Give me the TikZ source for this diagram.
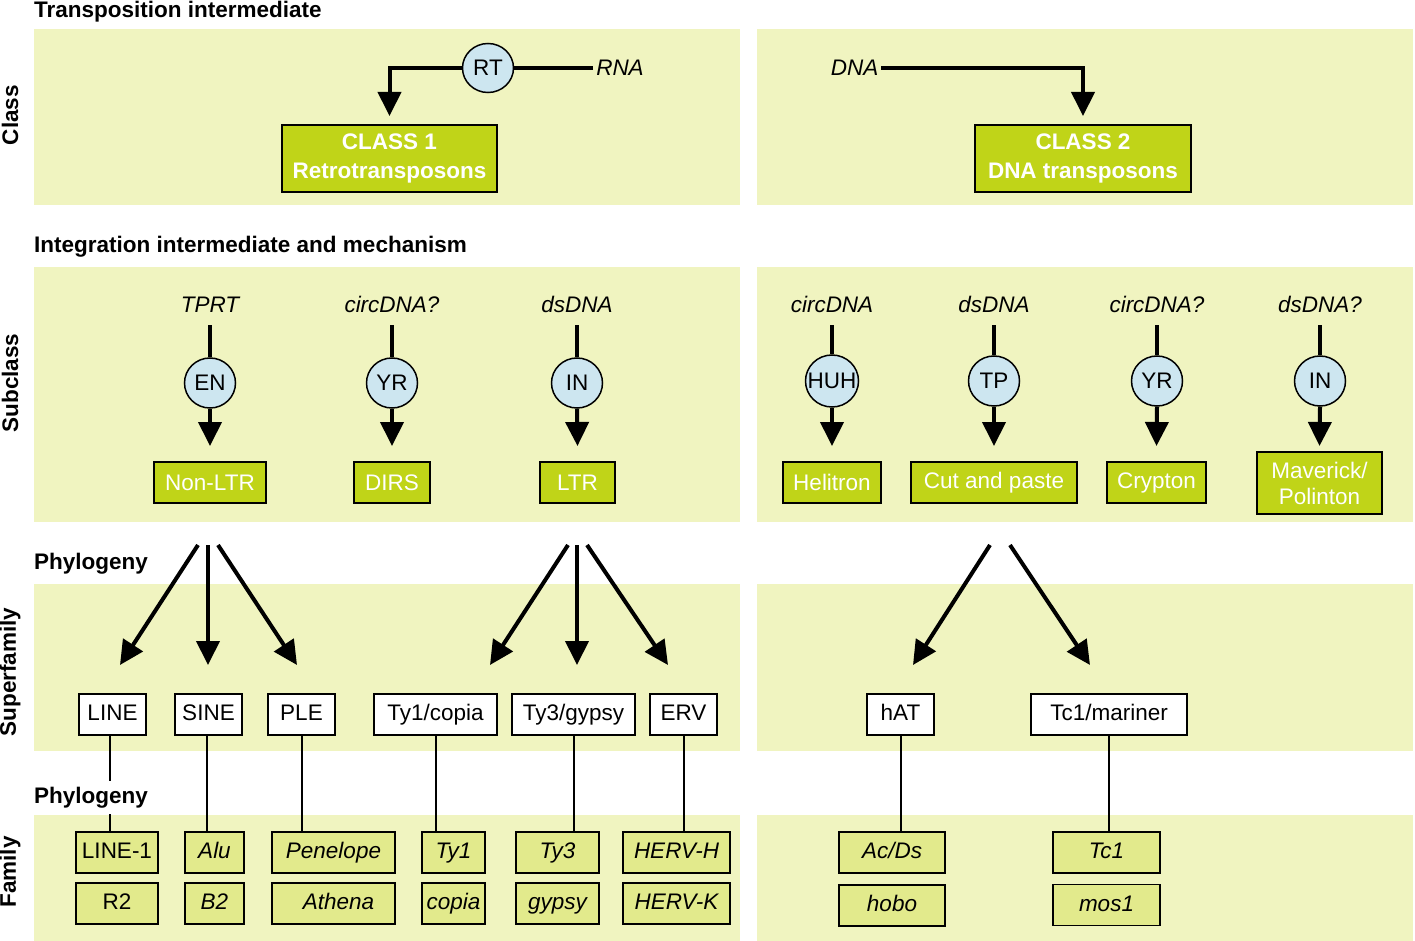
\documentclass[tikz,border=0pt]{standalone}
\usepackage{fontspec}
\setmainfont{Liberation Sans}
\usetikzlibrary{arrows.meta,shapes.geometric}
\definecolor{band}{RGB}{240,244,192}
\definecolor{lime}{RGB}{192,212,24}
\definecolor{famfill}{RGB}{226,234,140}
\definecolor{enz}{RGB}{205,230,240}
\begin{document}
\begin{tikzpicture}[x=1pt,y=-1pt,
  every node/.style={font=\fontsize{22.5}{26}\selectfont},
  bandbox/.style={fill=band,draw=none},
  head/.style={font=\fontsize{22.5}{26}\selectfont\bfseries,anchor=base west,inner sep=0},
  side/.style={font=\fontsize{22.5}{26}\selectfont\bfseries,rotate=90,inner sep=0},
  classbox/.style={draw=black,line width=2pt,fill=lime,text=white,font=\fontsize{22.5}{29}\selectfont\bfseries,align=center,minimum width=215pt,minimum height=67pt,inner sep=0},
  subbox/.style={draw=black,line width=2pt,fill=lime,text=white,minimum height=41pt,inner sep=0,align=center},
  enzyme/.style={ellipse,draw=black,line width=1.5pt,fill=enz,minimum width=51pt,minimum height=50pt,inner sep=0},
  interm/.style={font=\fontsize{22.5}{26}\selectfont\itshape,anchor=base,inner sep=0},
  supbox/.style={draw=black,line width=1.8pt,fill=white,minimum height=41pt,inner sep=0,text height=16pt,text depth=4pt},
  fambox/.style={draw=black,line width=1.8pt,fill=famfill,minimum height=41pt,inner sep=0,text height=16pt,text depth=4pt},
  thickarrow/.style={line width=4pt,-{Triangle[width=23pt,length=24pt]}},
  thickline/.style={line width=4pt},
  link/.style={line width=2pt}
]
\useasboundingbox (0,0) rectangle (1415,941);
% bands
\fill[bandbox] (34,29) rectangle (740,205);
\fill[bandbox] (757,29) rectangle (1413,205);
\fill[bandbox] (34,267) rectangle (740,522);
\fill[bandbox] (757,267) rectangle (1413,522);
\fill[bandbox] (34,584) rectangle (740,751);
\fill[bandbox] (757,584) rectangle (1413,751);
\fill[bandbox] (34,815) rectangle (740,941);
\fill[bandbox] (757,815) rectangle (1413,941);

% headings
\node[head] (h1) at (34,18) {Transposition intermediate};
\node[head] (h2) at (34,252) {Integration intermediate and mechanism};
\node[head] (h3) at (34,569) {Phylogeny};
\node[side] (sClass) at (10,115) {Class};
\node[side] (sSub) at (10,383) {Subclass};
\node[side] (sSup) at (10,672) {Superfamily};
\node[side] (sFam) at (10,872) {Family};

% class row
\node[enzyme,minimum height=49pt] (RT) at (488,68) {RT};
\node[interm,anchor=center,inner sep=3pt] (RNA) at (620,68) {RNA};
\node[classbox] (c1) at (389.5,158.5) {CLASS 1\\Retrotransposons};
\node[interm,anchor=center,inner sep=3pt] (DNA) at (854.5,68) {DNA};
\node[classbox,minimum width=216pt] (c2) at (1083,158.5) {CLASS 2\\DNA transposons};
\draw[thickline] (RNA.west) -- (RT.east);
\draw[thickarrow] (RT.west) -| ([yshift=8pt]c1.north);
\draw[thickarrow] (DNA.east) -| ([yshift=8pt]c2.north);

% subclass row
\node[interm] (l1) at (210,312) {TPRT};
\node[interm] (l2) at (392,312) {circDNA?};
\node[interm] (l3) at (577,312) {dsDNA};
\node[interm] (l4) at (832,312) {circDNA};
\node[interm] (l5) at (994,312) {dsDNA};
\node[interm] (l6) at (1157,312) {circDNA?};
\node[interm] (l7) at (1320,312) {dsDNA?};

\node[enzyme] (e1) at (210,383) {EN};
\node[enzyme] (e2) at (392,383) {YR};
\node[enzyme] (e3) at (577,383) {IN};
\node[enzyme,minimum width=53pt,minimum height=52pt] (e4) at (832,381) {\makebox[0pt]{HUH}};
\node[enzyme] (e5) at (994,381) {TP};
\node[enzyme] (e6) at (1157,381) {YR};
\node[enzyme] (e7) at (1320,381) {IN};

\node[subbox,minimum width=112pt] (b1) at (210,482.5) {Non-LTR};
\node[subbox,minimum width=76pt] (b2) at (392,482.5) {DIRS};
\node[subbox,minimum width=75pt] (b3) at (577.5,482.5) {LTR};
\node[subbox,minimum width=98pt] (b4) at (832,482.5) {Helitron};
\node[subbox,minimum width=166pt] (b5) at (994,482.5) {Cut and paste};
\node[subbox,minimum width=99pt] (b6) at (1156.5,482.5) {Crypton};
\node[subbox,minimum width=125pt,minimum height=62pt,font=\fontsize{22.5}{26}\selectfont] (b7) at (1319.5,483) {Maverick/\\Polinton};

\foreach \i in {1,...,7}{
  \draw[thickline] ([yshift=-13pt]l\i.south) -- (e\i.north);
}
\foreach \i in {1,...,6}{
  \draw[thickarrow] (e\i.south) -- ([yshift=15pt]b\i.north);
}
\draw[thickarrow] (e7.south) -- ([yshift=5pt]b7.north);

% phylogeny arrows
\coordinate (pa1) at (198,545); \coordinate (pt1) at (120,665);
\coordinate (pa2) at (208,545); \coordinate (pt2) at (208,665);
\coordinate (pa3) at (218,545); \coordinate (pt3) at (297,665);
\coordinate (pa4) at (568,545); \coordinate (pt4) at (490,665);
\coordinate (pa5) at (577,545); \coordinate (pt5) at (577,665);
\coordinate (pa6) at (587,545); \coordinate (pt6) at (668,665);
\coordinate (pa7) at (990,545); \coordinate (pt7) at (913,665);
\coordinate (pa8) at (1010,545); \coordinate (pt8) at (1090,665);
\foreach \i in {1,...,8}{
  \draw[thickarrow] (pa\i) -- (pt\i);
}

% superfamilies
\node[supbox,minimum width=67pt] (sf1) at (112.5,714.5) {LINE};
\node[supbox,minimum width=67pt] (sf2) at (208.5,714.5) {SINE};
\node[supbox,minimum width=67pt] (sf3) at (301.5,714.5) {PLE};
\node[supbox,minimum width=123pt] (sf4) at (435.5,714.5) {Ty1/copia};
\node[supbox,minimum width=123pt] (sf5) at (573.5,714.5) {Ty3/gypsy};
\node[supbox,minimum width=67pt] (sf6) at (683.5,714.5) {ERV};
\node[supbox,minimum width=67pt] (sf7) at (900.5,714.5) {hAT};
\node[supbox,minimum width=156pt] (sf8) at (1109,714.5) {Tc1/mariner};

% families
\node[fambox,minimum width=82pt] (f1a) at (117,852.5) {LINE-1};
\node[fambox,minimum width=82pt] (f1b) at (117,903.5) {R2};
\node[fambox,minimum width=59pt,font=\fontsize{22.5}{26}\selectfont\itshape] (f2a) at (214.5,852.5) {Alu};
\node[fambox,minimum width=59pt,font=\fontsize{22.5}{26}\selectfont\itshape] (f2b) at (214.5,903.5) {B2};
\node[fambox,minimum width=123pt,font=\fontsize{22.5}{26}\selectfont\itshape] (f3a) at (333.5,852.5) {Penelope};
\node[fambox,minimum width=123pt,font=\fontsize{22.5}{26}\selectfont\itshape,text width=113pt,align=center] (f3b) at (333.5,903.5) {\hspace*{10pt}Athena};
\node[fambox,minimum width=63pt,font=\fontsize{22.5}{26}\selectfont\itshape] (f4a) at (453.5,852.5) {Ty1};
\node[fambox,minimum width=63pt,font=\fontsize{22.5}{26}\selectfont\itshape] (f4b) at (453.5,903.5) {copia};
\node[fambox,minimum width=83pt,font=\fontsize{22.5}{26}\selectfont\itshape] (f5a) at (557.5,852.5) {Ty3};
\node[fambox,minimum width=83pt,font=\fontsize{22.5}{26}\selectfont\itshape] (f5b) at (557.5,903.5) {gypsy};
\node[fambox,minimum width=107pt,font=\fontsize{22.5}{26}\selectfont\itshape] (f6a) at (676.5,852.5) {HERV-H};
\node[fambox,minimum width=107pt,font=\fontsize{22.5}{26}\selectfont\itshape] (f6b) at (676.5,903.5) {HERV-K};
\node[fambox,minimum width=106pt,font=\fontsize{22.5}{26}\selectfont\itshape] (f7a) at (892,852.5) {Ac/Ds};
\node[fambox,minimum width=106pt,font=\fontsize{22.5}{26}\selectfont\itshape] (f7b) at (892,905.5) {hobo};
\node[fambox,minimum width=107pt,font=\fontsize{22.5}{26}\selectfont\itshape] (f8a) at (1106.5,852.5) {Tc1};
\node[fambox,minimum width=107pt,font=\fontsize{22.5}{26}\selectfont\itshape] (f8b) at (1106.5,905) {mos1};

\draw[link] ([xshift=-2.5pt]sf1.south) -- ([xshift=-2.5pt]sf1.south |- f1a.north);
\draw[link] ([xshift=-1.5pt]sf2.south) -- ([xshift=-1.5pt]sf2.south |- f2a.north);
\foreach \i in {3,...,8}{
  \draw[link] (sf\i.south) -- (sf\i.south |- f\i a.north);
}

\node[head,fill=white,inner xsep=0pt,inner ysep=6pt] (h4) at (34,803) {Phylogeny};
\end{tikzpicture}
\end{document}
